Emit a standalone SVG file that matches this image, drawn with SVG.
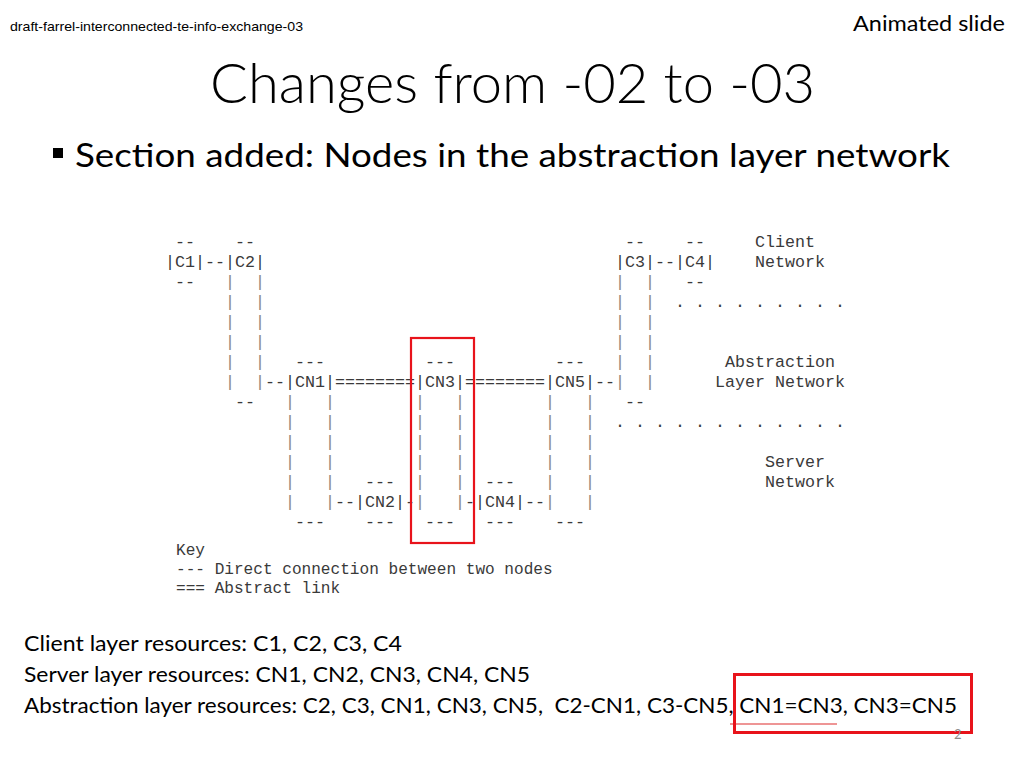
<svg xmlns="http://www.w3.org/2000/svg" width="1024" height="768" viewBox="0 0 1024 768">
<style>
.m{font-family:"Liberation Mono","Courier New",monospace;font-size:16.667px;fill:#3a3a3a}
.bar{fill:#8a857b}
.k{font-family:"Liberation Mono","Courier New",monospace;font-size:16.1px;fill:#3a3a3a}
.s{font-family:Lato,"Open Sans","Noto Sans",sans-serif;fill:#000}
.hl{fill:none;stroke:#e8131b}
</style>
<rect width="1024" height="768" fill="#fff"/>
<text class="s" x="10" y="31" font-family="'Liberation Sans',Arial,sans-serif" style="font-family:'Liberation Sans',Arial,sans-serif" font-size="13" textLength="293" lengthAdjust="spacingAndGlyphs">draft-farrel-interconnected-te-info-exchange-03</text>
<text class="s" x="853" y="31" font-size="22" textLength="152" lengthAdjust="spacingAndGlyphs">Animated slide</text>
<text class="s" x="210" y="103" font-size="56" font-weight="300" textLength="605" lengthAdjust="spacingAndGlyphs">Changes from -02 to -03</text>
<rect x="53" y="148" width="10" height="10" fill="#000"/>
<text class="s" x="75" y="167" font-size="32" textLength="875" lengthAdjust="spacingAndGlyphs">Section added: Nodes in the abstraction layer network</text>

<g id="connectors">
<text class="m" x="205" y="267">--</text>
<text class="m" x="265" y="387">--</text>
<text class="m" x="335" y="387">========</text>
<text class="m" x="465" y="387">========</text>
<text class="m" x="595" y="387">--</text>
<text class="m" x="655" y="267">--</text>
<text class="m" x="335" y="507">--</text>
<text class="m" x="405" y="507">-</text>
<text class="m" x="465" y="507">-</text>
<text class="m" x="525" y="507">--</text>
</g>

<g id="C1">
<text class="m" x="175" y="247">--</text>
<text class="m" x="165" y="267">|C1|</text>
<text class="m" x="175" y="287">--</text>
</g>
<g id="C2">
<text class="m" x="235" y="247">--</text>
<text class="m" x="225" y="267">|C2|</text>
<text class="m bar" x="225" y="287">|<tspan x="225" dy="20">|</tspan><tspan x="225" dy="20">|</tspan><tspan x="225" dy="20">|</tspan><tspan x="225" dy="20">|</tspan><tspan x="225" dy="20">|</tspan></text>
<text class="m bar" x="255" y="287">|<tspan x="255" dy="20">|</tspan><tspan x="255" dy="20">|</tspan><tspan x="255" dy="20">|</tspan><tspan x="255" dy="20">|</tspan><tspan x="255" dy="20">|</tspan></text>
<text class="m" x="235" y="407">--</text>
</g>
<g id="CN1">
<text class="m" x="295" y="367">---</text>
<text class="m" x="285" y="387">|CN1|</text>
<text class="m bar" x="285" y="407">|<tspan x="285" dy="20">|</tspan><tspan x="285" dy="20">|</tspan><tspan x="285" dy="20">|</tspan><tspan x="285" dy="20">|</tspan><tspan x="285" dy="20">|</tspan></text>
<text class="m bar" x="325" y="407">|<tspan x="325" dy="20">|</tspan><tspan x="325" dy="20">|</tspan><tspan x="325" dy="20">|</tspan><tspan x="325" dy="20">|</tspan><tspan x="325" dy="20">|</tspan></text>
<text class="m" x="295" y="527">---</text>
</g>
<g id="CN3">
<text class="m" x="425" y="367">---</text>
<text class="m" x="415" y="387">|CN3|</text>
<text class="m bar" x="415" y="407">|<tspan x="415" dy="20">|</tspan><tspan x="415" dy="20">|</tspan><tspan x="415" dy="20">|</tspan><tspan x="415" dy="20">|</tspan><tspan x="415" dy="20">|</tspan></text>
<text class="m bar" x="455" y="407">|<tspan x="455" dy="20">|</tspan><tspan x="455" dy="20">|</tspan><tspan x="455" dy="20">|</tspan><tspan x="455" dy="20">|</tspan><tspan x="455" dy="20">|</tspan></text>
<text class="m" x="425" y="527">---</text>
</g>
<g id="CN5">
<text class="m" x="555" y="367">---</text>
<text class="m" x="545" y="387">|CN5|</text>
<text class="m bar" x="545" y="407">|<tspan x="545" dy="20">|</tspan><tspan x="545" dy="20">|</tspan><tspan x="545" dy="20">|</tspan><tspan x="545" dy="20">|</tspan><tspan x="545" dy="20">|</tspan></text>
<text class="m bar" x="585" y="407">|<tspan x="585" dy="20">|</tspan><tspan x="585" dy="20">|</tspan><tspan x="585" dy="20">|</tspan><tspan x="585" dy="20">|</tspan><tspan x="585" dy="20">|</tspan></text>
<text class="m" x="555" y="527">---</text>
</g>
<g id="C3">
<text class="m" x="625" y="247">--</text>
<text class="m" x="615" y="267">|C3|</text>
<text class="m bar" x="615" y="287">|<tspan x="615" dy="20">|</tspan><tspan x="615" dy="20">|</tspan><tspan x="615" dy="20">|</tspan><tspan x="615" dy="20">|</tspan><tspan x="615" dy="20">|</tspan></text>
<text class="m bar" x="645" y="287">|<tspan x="645" dy="20">|</tspan><tspan x="645" dy="20">|</tspan><tspan x="645" dy="20">|</tspan><tspan x="645" dy="20">|</tspan><tspan x="645" dy="20">|</tspan></text>
<text class="m" x="625" y="407">--</text>
</g>
<g id="C4">
<text class="m" x="685" y="247">--</text>
<text class="m" x="675" y="267">|C4|</text>
<text class="m" x="685" y="287">--</text>
</g>
<g id="CN2">
<text class="m" x="365" y="487">---</text>
<text class="m" x="355" y="507">|CN2|</text>
<text class="m" x="365" y="527">---</text>
</g>
<g id="CN4">
<text class="m" x="485" y="487">---</text>
<text class="m" x="475" y="507">|CN4|</text>
<text class="m" x="485" y="527">---</text>
</g>

<g id="labels">
<text class="m" x="755" y="247">Client</text>
<text class="m" x="755" y="267">Network</text>
<text class="m" x="675" y="307">. . . . . . . . .</text>
<text class="m" x="725" y="367">Abstraction</text>
<text class="m" x="715" y="387">Layer Network</text>
<text class="m" x="615" y="427">. . . . . . . . . . . .</text>
<text class="m" x="765" y="467">Server</text>
<text class="m" x="765" y="487">Network</text>
<text class="k" x="176" y="555">Key</text>
<text class="k" x="176" y="574">--- Direct connection between two nodes</text>
<text class="k" x="176" y="593">=== Abstract link</text>
</g>

<rect class="hl" x="411" y="338" width="63" height="205" stroke-width="2.2"/>

<text class="s" x="24" y="651" font-size="22" textLength="378" lengthAdjust="spacingAndGlyphs">Client layer resources: C1, C2, C3, C4</text>
<text class="s" x="24" y="682" font-size="22" textLength="506" lengthAdjust="spacingAndGlyphs">Server layer resources: CN1, CN2, CN3, CN4, CN5</text>
<text class="s" x="24" y="713" font-size="22" textLength="933" lengthAdjust="spacingAndGlyphs" xml:space="preserve">Abstraction layer resources: C2, C3, CN1, CN3, CN5,  C2-CN1, C3-CN5, CN1=CN3, CN3=CN5</text>
<line x1="730" y1="724" x2="837" y2="724" stroke="#e87272" stroke-width="1.5"/>
<rect class="hl" x="734.5" y="674.5" width="237" height="58" stroke-width="3"/>
<text x="954" y="739" font-family="Lato,'Open Sans',sans-serif" font-size="13" fill="#8c8c8c">2</text>
</svg>
